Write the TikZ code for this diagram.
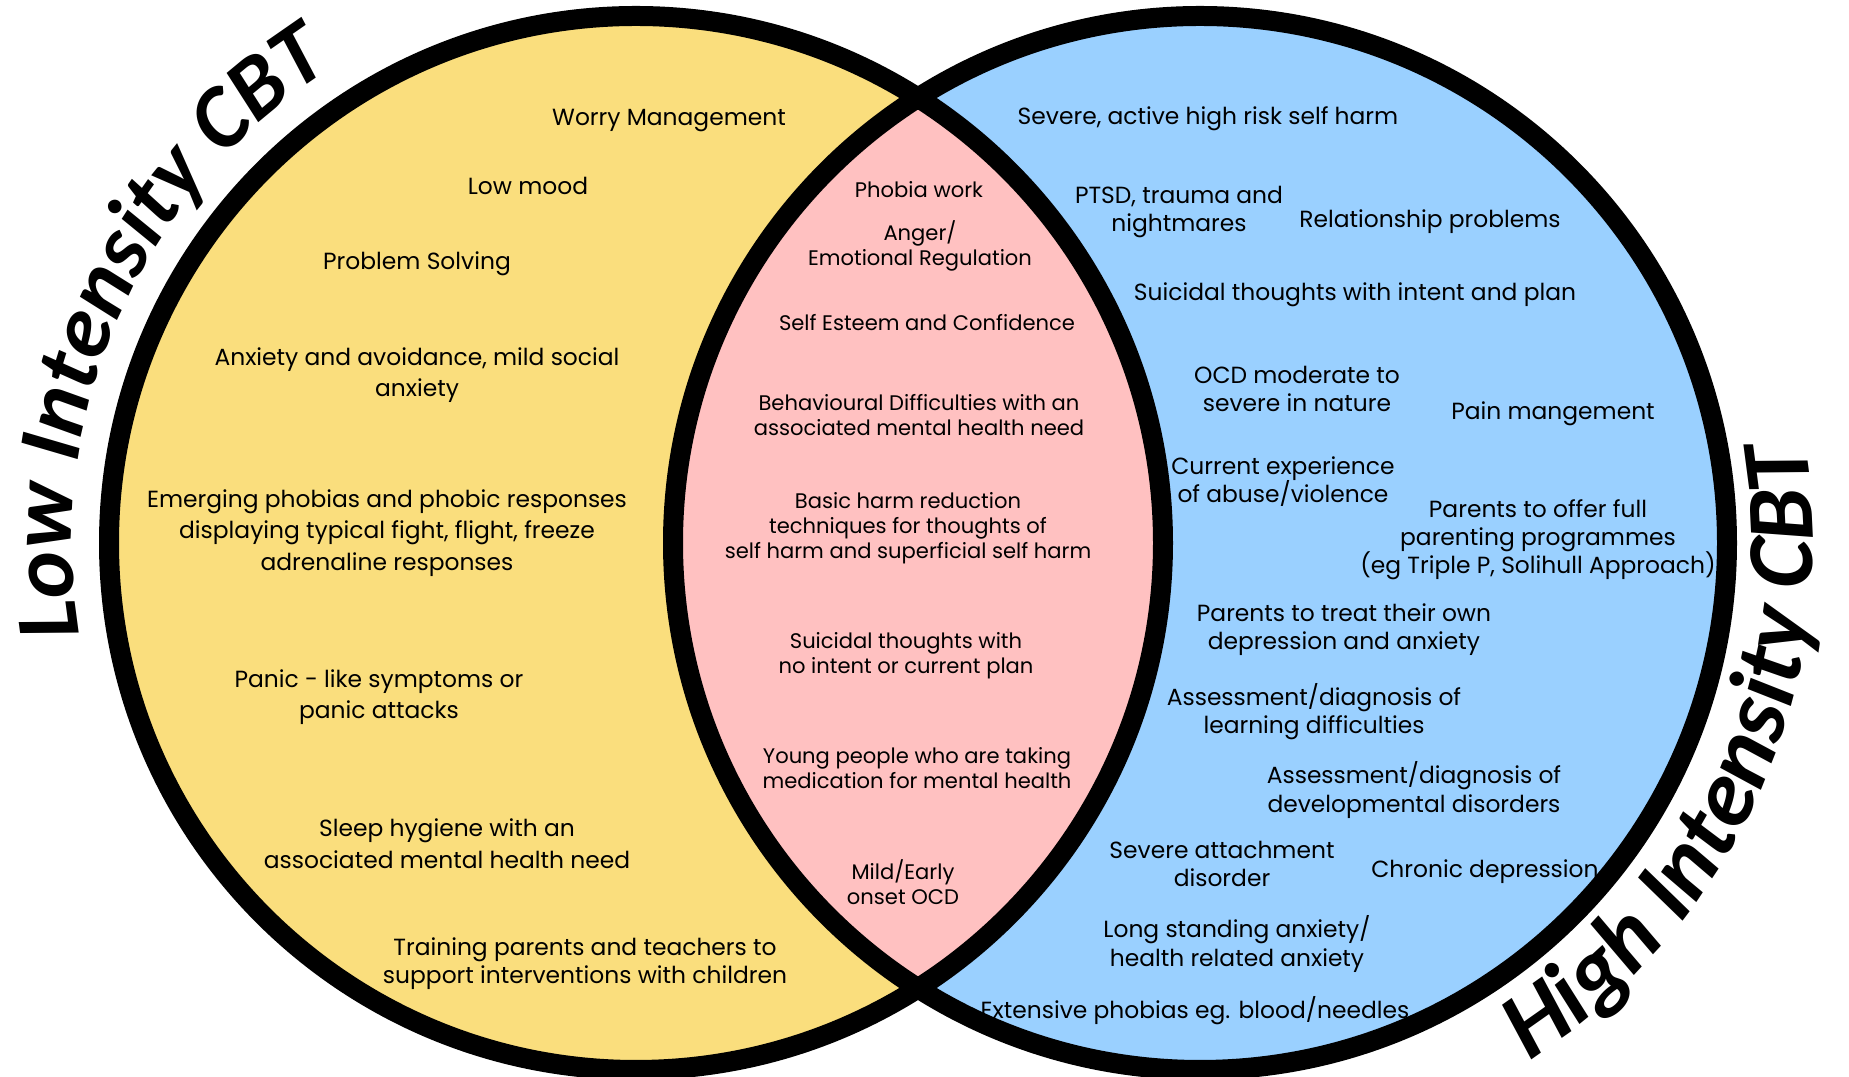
\documentclass[tikz,border=0pt]{standalone}
\usepackage[svgnames]{xcolor}
\usepackage{fontspec}
\usepackage{tikz}
\usetikzlibrary{decorations.text}
\setmainfont{Poppins}
\newfontfamily\titlefont{Carlito}
\newcommand\tightlines{\lineskiplimit=-4pt\relax}
\definecolor{lowfill}{RGB}{250,222,125}
\definecolor{bothfill}{RGB}{255,193,193}
\definecolor{highfill}{RGB}{154,208,255}

\begin{document}
\begin{tikzpicture}[line width=0.2cm,
      every node/.append style={align=center,inner sep=0pt,font=\fontsize{6.65}{9}\selectfont},
      mid/.style={font=\fontsize{6}{7.1}\selectfont},
      high/.style={font={\fontsize{6.65}{8}\selectfont\tightlines}},
      heading/.style 2 args={decorate,decoration={text along path,text align=center,
        text={|\titlefont\bfseries\itshape\fontsize{#1}{30}\selectfont|#2}}}]
    \useasboundingbox (0,0) rectangle (18.49,10.77);
    \coordinate (low) at (6.36,5.34);
    \coordinate (high) at (12.00,5.34);
    \fill[lowfill] (low) circle (5.27);
    \fill[highfill] (high) circle (5.27);
    \begin{scope}
      \clip (low) circle (5.27);
      \fill[bothfill] (high) circle (5.27);
    \end{scope}
    \draw (low) circle (5.27);
    \draw (high) circle (5.27);
    \path[heading={25.5}{Low Intensity CBT}] ([shift={(200:5.64)}]low) arc[start angle=200,end angle=112,radius=5.64];
    \path[heading={27}{High Intensity CBT}] ([shift={(-69:6.13)}]high) arc[start angle=-69,end angle=21,radius=6.13];
    \node (worry) at (6.69,9.56) {Worry Management};
    \node (lowmood) at (5.28,8.91) {Low mood};
    \node (problem) at (4.17,8.13) {Problem Solving};
    \node (avoid) at (4.17,7.02) {Anxiety and avoidance, mild social\\anxiety};
    \node (emerging) at (3.87,5.44) {Emerging phobias and phobic responses\\displaying typical fight, flight, freeze\\adrenaline responses};
    \node (panic) at (3.79,3.80) {Panic - like symptoms or\\panic attacks};
    \node (sleep) at (4.47,2.33) {Sleep hygiene with an\\associated mental health need};
    \node (training) [high] at (5.85,1.13) {Training parents and teachers to\\support interventions with children};
    \node (phobia) [mid] at (9.19,8.87) {Phobia work};
    \node (anger) [mid] at (9.20,8.31) {Anger/\\Emotional Regulation};
    \node (esteem) [mid] at (9.27,7.54) {Self Esteem and Confidence};
    \node (behav) [mid] at (9.19,6.62) {Behavioural Difficulties with an\\associated mental health need};
    \node (harm) [mid] at (9.08,5.49) {Basic harm reduction\\techniques for thoughts of\\self harm and superficial self harm};
    \node (nointent) [mid] at (9.06,4.21) {Suicidal thoughts with\\no intent or current plan};
    \node (young) [mid] at (9.17,3.09) {Young people who are taking\\medication for mental health};
    \node (mild) [mid] at (9.03,1.95) {Mild/Early\\onset OCD};
    \node (severe) [high] at (12.08,9.58) {Severe, active high risk self harm};
    \node (ptsd) [high] at (11.79,8.65) {PTSD, trauma and\\nightmares};
    \node (relation) [high] at (14.30,8.55) {Relationship problems};
    \node (withplan) [high] at (13.55,7.82) {Suicidal thoughts with intent and plan};
    \node (ocd) [high] at (12.97,6.88) {OCD moderate to\\severe in nature};
    \node (pain) [high] at (15.53,6.63) {Pain mangement};
    \node (abuse) [high] at (12.83,5.95) {Current experience\\of abuse/violence};
    \node (parenting) [high] at (15.38,5.37) {Parents to offer full\\parenting programmes\\(eg Triple P, Solihull Approach)};
    \node (ownmood) [high] at (13.44,4.47) {Parents to treat their own\\depression and anxiety};
    \node (learning) [high] at (13.14,3.65) {Assessment/diagnosis of\\learning difficulties};
    \node (develop) [high] at (14.14,2.87) {Assessment/diagnosis of\\developmental disorders};
    \node (attach) [high] at (12.22,2.13) {Severe attachment\\disorder};
    \node (chronic) [high] at (14.85,2.05) {Chronic depression};
    \node (longanx) [high] at (12.37,1.33) {Long standing anxiety/\\health related anxiety};
    \node (extensive) [high] at (11.95,0.66) {Extensive phobias eg. blood/needles};
\end{tikzpicture}
\end{document}
